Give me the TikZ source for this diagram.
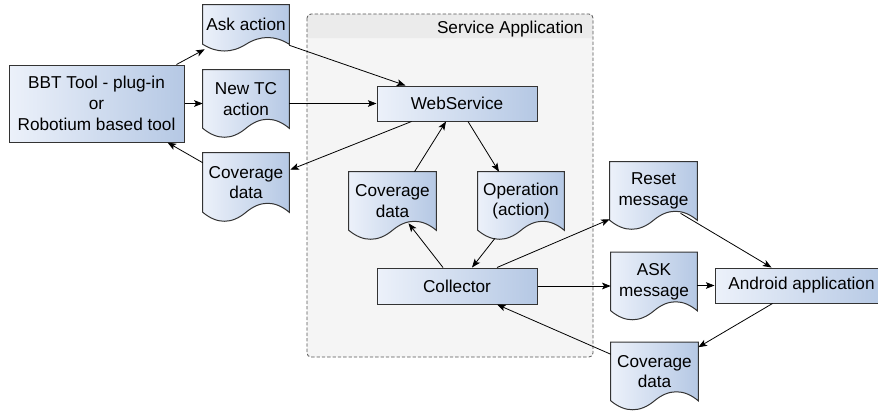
\documentclass[tikz,border=0pt]{standalone}
\usepackage{fontspec}
\setmainfont{Liberation Sans}
\usetikzlibrary{calc,arrows.meta}
\definecolor{boxlight}{RGB}{236,241,250}
\definecolor{boxdark}{RGB}{181,200,228}
\definecolor{appfill}{RGB}{245,245,245}
\definecolor{apphead}{RGB}{235,235,235}
\definecolor{appline}{RGB}{85,85,85}

\pgfdeclarelayer{frame}
\pgfdeclarelayer{paper}
\pgfsetlayers{frame,paper,main}

\begin{document}
\begin{tikzpicture}[x=0.75pt,y=-0.75pt,
    font=\fontsize{12.9}{15.6}\selectfont,
    proc/.style={draw=black!80, line width=0.75pt, left color=boxlight, right color=boxdark,
        align=center, inner sep=0pt, minimum height=26.25pt},
    doc/.style={align=center, inner sep=0pt, minimum width=64.5pt, minimum height=43.5pt},
    docshape/.style={draw=black!80, line width=0.75pt, left color=boxlight, right color=boxdark},
    flow/.style={-{Stealth[length=6.5pt,width=5pt,inset=1.5pt]}, line width=0.6pt}]
    \useasboundingbox (0,0) rectangle (878,412);
    \clip (0,0) rectangle (878,412);

    % service application frame
    \begin{pgfonlayer}{frame}
        \fill[appfill, rounded corners=3] (307,14) rectangle (593,357);
        \fill[apphead] (307,38) [rounded corners=3] -- (307,14) -- (593,14) [sharp corners] -- (593,38) -- cycle;
        \draw[appline, dashed, dash pattern=on 2.5pt off 1.5pt, line width=0.6pt, rounded corners=3] (307,14) rectangle (593,357);
    \end{pgfonlayer}
    \node[anchor=base east] (appTitle) at (588,33) {Service Application};

    % tool side
    \node[proc, minimum width=131.25pt, minimum height=57.75pt] (bbt) at (96.5,103.5) {BBT Tool - plug-in\\or\\Robotium based tool};
    \node[doc, minimum height=29.25pt] (askAct) at (246,24.5) {Ask action};
    \node[doc] (newTC) at (246,99) {New TC\\action};
    \node[doc, minimum height=44.25pt] (covL) at (246,182.5) {Coverage\\data};

    % inside the service
    \node[proc, minimum width=120pt] (webSvc) at (457,103.5) {WebService};
    \node[doc, minimum width=65.25pt] (covIn) at (392.5,201) {Coverage\\data};
    \node[doc] (operation) at (521,201) {Operation\\(action)};
    \node[proc, minimum width=120pt, minimum height=27pt] (collector) at (457,286) {Collector};

    % device side
    \node[doc, minimum width=65.25pt] (resetMsg) at (653.5,191) {Reset\\message};
    \node[doc] (askMsg) at (654,281.5) {ASK\\message};
    \node[proc, minimum width=129.75pt] (android) at (801.5,285.5) {Android application};
    \node[doc, minimum width=65.25pt] (covR) at (654.5,371.5) {Coverage\\data};

    % document outlines with the wavy bottom
    \begin{pgfonlayer}{paper}
        \foreach \d/\w in {askAct/9,newTC/12,covL/12,covIn/12,operation/12,resetMsg/12,askMsg/12,covR/12}
            \path[docshape] (\d.north west) -- (\d.north east) -- (\d.south east)
                .. controls +(-14.3,-\w) and +(14.3,-\w) .. (\d.south)
                .. controls +(-14.3,\w) and +(14.3,\w) .. (\d.south west) -- cycle;
    \end{pgfonlayer}

    % connectors
    \draw[flow] ($(bbt.north east)+(-8,0)$) -- ($(askAct.south west)+(2,5)$);
    \draw[flow] (bbt.east) -- (bbt.east -| newTC.west);
    \draw[flow] ($(covL.north west)+(0,10)$) -- ($(bbt.south east)+(-17,0)$);
    \draw[flow] ($(askAct.south east)+(0,1)$) -- ($(webSvc.north west)+(29,0)$);
    \draw[flow] (webSvc.west -| newTC.east) -- (webSvc.west);
    \draw[flow] ($(webSvc.south west)+(35,0)$) -- ($(covL.north east)+(1,17)$);
    \draw[flow] ($(covIn.north)+(22,0)$) -- ($(webSvc.south)+(-11,0)$);
    \draw[flow] ($(webSvc.south)+(11,0)$) -- ($(operation.north)+(-22,0)$);
    \draw[flow] ($(collector.north)+(-14,0)$) -- ($(covIn.south)+(16,-7)$);
    \draw[flow] ($(operation.south)+(-26,8)$) -- ($(collector.north)+(15,0)$);
    \draw[flow] ($(collector.north)+(40,0)$) -- ($(resetMsg.south west)+(0,-1)$);
    \draw[flow] (collector.east) -- (collector.east -| askMsg.west);
    \draw[flow] ($(resetMsg.south)+(27,-7)$) -- ($(android.north)+(-30,0)$);
    \draw[flow] (android.west -| askMsg.east) -- (android.west);
    \draw[flow] ($(android.south)+(-29,0)$) -- ($(covR.north east)+(0,5)$);
    \draw[flow] ($(covR.north west)+(0,12)$) -- ($(collector.south)+(40,0)$);
\end{tikzpicture}
\end{document}
